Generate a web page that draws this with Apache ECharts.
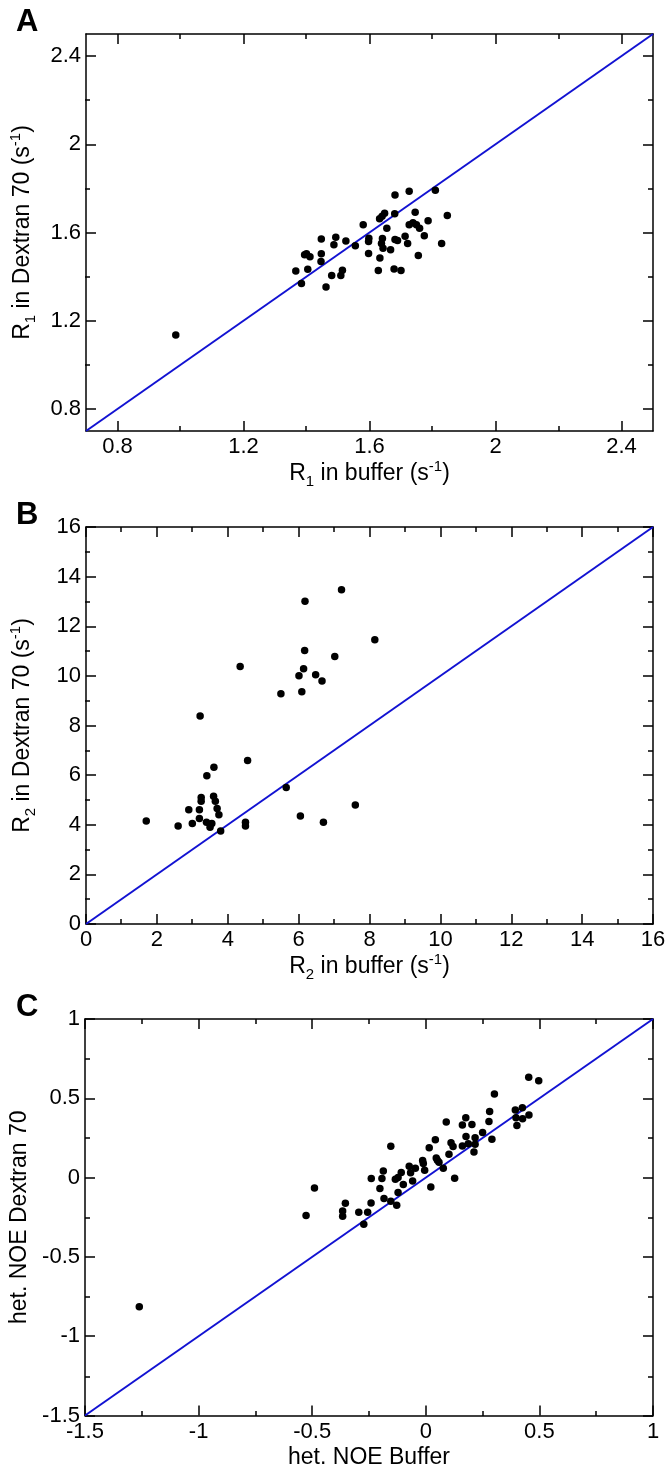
<!DOCTYPE html>
<html>
<head>
<meta charset="utf-8">
<script src="https://cdn.jsdelivr.net/npm/echarts@6/dist/echarts.min.js"></script>
<style>
html,body{margin:0;padding:0;background:#fff;}
#chart{width:672px;height:1470px;}
</style>
</head>
<body>
<div id="chart"></div>
<script>
// ---- Panel A: R1 ----
const r1Buffer  = [1.681,1.726,1.809,1.847,1.745,1.786,1.680,1.648,1.640,1.632,1.580,1.655,1.726,1.738,1.749,1.759,1.774,1.713,1.721,1.681,1.689,1.641,1.638,1.598,1.597,1.643,1.667,1.597,1.633,1.755,1.829,1.555,1.525,1.493,1.487,1.447,1.447,1.400,1.411,1.394,1.446,1.404,1.366,1.384,1.462,1.480,1.509,1.514,1.628,1.678,1.700,0.985];
const r1Dextran = [1.770,1.787,1.791,1.677,1.692,1.653,1.685,1.687,1.674,1.662,1.635,1.619,1.635,1.644,1.635,1.619,1.585,1.583,1.550,1.568,1.564,1.573,1.550,1.574,1.559,1.529,1.522,1.505,1.484,1.496,1.550,1.540,1.562,1.579,1.544,1.570,1.504,1.504,1.490,1.499,1.469,1.433,1.425,1.369,1.353,1.405,1.405,1.429,1.428,1.434,1.428,1.135];
const r1Range = [0.7, 2.5];
const r1Major = [0.8, 1.2, 1.6, 2, 2.4];
const r1Minor = [1.0, 1.4, 1.8, 2.2];

// ---- Panel B: R2 ----
const r2Buffer  = [7.21,6.18,8.15,6.17,7.02,4.35,6.14,6.01,6.48,6.66,5.50,6.09,3.22,4.56,3.61,3.41,1.70,2.60,2.90,3.00,3.20,3.20,3.25,3.25,3.40,3.50,3.55,3.60,3.65,3.70,3.75,3.80,4.50,4.50,5.65,6.05,6.70,7.60];
const r2Dextran = [13.47,13.01,11.46,11.02,10.78,10.38,10.29,10.01,10.05,9.79,9.28,9.36,8.38,6.59,6.32,5.97,4.15,3.95,4.60,4.05,4.25,4.60,4.95,5.10,4.10,3.90,4.05,5.15,4.95,4.65,4.40,3.75,4.10,3.95,5.50,4.35,4.10,4.80];
const r2Range = [0, 16];
const r2Major = [0, 2, 4, 6, 8, 10, 12, 14, 16];
const r2Minor = [1, 3, 5, 7, 9, 11, 13, 15];

// ---- Panel C: heteronuclear NOE ----
const noeBuffer  = [0.453,0.497,0.302,0.394,0.425,0.281,0.397,0.426,0.454,0.401,0.278,0.090,0.176,0.161,0.203,0.250,0.291,0.177,0.217,0.111,0.120,0.161,0.187,0.217,0.212,0.042,0.015,0.102,0.046,0.058,0.051,-0.014,-0.011,0.077,0.127,0.022,-0.073,-0.046,-0.067,-0.058,-0.005,-0.108,-0.134,-0.122,-0.099,-0.154,-0.187,-0.193,-0.202,-0.184,-0.154,-0.122,-0.128,-1.261,-0.527,-0.366,-0.366,-0.354,-0.295,-0.256,-0.273,-0.241,-0.490,-0.240];
const noeDextran = [0.632,0.611,0.527,0.426,0.440,0.417,0.377,0.371,0.394,0.329,0.354,0.350,0.377,0.331,0.335,0.285,0.242,0.259,0.251,0.219,0.196,0.200,0.213,0.211,0.162,0.238,0.188,0.148,0.124,0.097,0.110,0.108,0.089,0.059,-0.004,-0.059,0.072,0.059,0.030,-0.021,0.047,0.032,-0.010,0.001,-0.044,0.198,0.042,-0.006,-0.069,-0.132,-0.149,-0.094,-0.174,-0.814,-0.239,-0.210,-0.244,-0.162,-0.218,-0.218,-0.294,-0.160,-0.065,-0.005];
const noeRange = [-1.5, 1];
const noeMajor = [-1.5, -1, -0.5, 0, 0.5, 1];
const noeMinor = [-1.25, -0.75, -0.25, 0.25, 0.75];

const panelLetters = ['A', 'B', 'C'];
const xTitles = ['{n|R}{sub|1}{n| in buffer (s}{sup|-1}{n|)}', '{n|R}{sub|2}{n| in buffer (s}{sup|-1}{n|)}', '{n|het. NOE Buffer}'];
const yTitles = ['{n|R}{sub|1}{n| in Dextran 70 (s}{sup|-1}{n|)}', '{n|R}{sub|2}{n| in Dextran 70 (s}{sup|-1}{n|)}', '{n|het. NOE Dextran 70}'];

const FONT = "'Liberation Sans', Arial, Helvetica, sans-serif";
const panels = [
  {top: 34,   x: r1Buffer,  y: r1Dextran,  range: r1Range,  major: r1Major,  minor: r1Minor},
  {top: 527,  x: r2Buffer,  y: r2Dextran,  range: r2Range,  major: r2Major,  minor: r2Minor},
  {top: 1019, x: noeBuffer, y: noeDextran, range: noeRange, major: noeMajor, minor: noeMinor}
];

const rich = {
  n:   {fontSize: 23, lineHeight: 30, color: '#000', fontFamily: FONT},
  sub: {fontSize: 15, lineHeight: 15, verticalAlign: 'bottom', color: '#000', fontFamily: FONT},
  sup: {fontSize: 15, lineHeight: 15, verticalAlign: 'top', color: '#000', fontFamily: FONT}
};

const grid = [], xAxis = [], yAxis = [], series = [], graphic = [];
const lineStyle = {color: '#000', width: 1.5};

function axis(gi, pos, p, kind, withLabels, name, nameGap) {
  const major = kind === 'major';
  const a = {
    gridIndex: gi, type: 'value', position: pos,
    min: p.range[0], max: p.range[1],
    axisLine: {show: major, onZero: false, lineStyle},
    axisTick: {show: true, inside: true, length: major ? 10 : 5, customValues: major ? p.major : p.minor, lineStyle},
    axisLabel: {show: withLabels, customValues: p.major, color: '#000', fontSize: 22, fontFamily: FONT, margin: 5},
    splitLine: {show: false},
    minorTick: {show: false}
  };
  if (name) {
    a.name = name; a.nameLocation = 'middle'; a.nameGap = nameGap;
    a.nameTextStyle = {rich};
  }
  return a;
}

panels.forEach((p, i) => {
  const gMaj = 2 * i, gMin = 2 * i + 1;
  [gMaj, gMin].forEach(() => grid.push({left: 85, top: p.top, width: 568, height: 397, show: false}));
  xAxis.push(axis(gMaj, 'bottom', p, 'major', true, xTitles[i], 27));
  xAxis.push(axis(gMaj, 'top', p, 'major', false));
  xAxis.push(axis(gMin, 'bottom', p, 'minor', false));
  xAxis.push(axis(gMin, 'top', p, 'minor', false));
  yAxis.push(axis(gMaj, 'left', p, 'major', true, yTitles[i], 48));
  yAxis.push(axis(gMaj, 'right', p, 'major', false));
  yAxis.push(axis(gMin, 'left', p, 'minor', false));
  yAxis.push(axis(gMin, 'right', p, 'minor', false));

  series.push({
    type: 'line', xAxisIndex: 4 * i, yAxisIndex: 4 * i,
    data: [[p.range[0], p.range[0]], [p.range[1], p.range[1]]],
    showSymbol: false, symbol: 'none', silent: true,
    lineStyle: {color: '#1212d2', width: 2}, z: 2, animation: false
  });
  series.push({
    type: 'scatter', xAxisIndex: 4 * i, yAxisIndex: 4 * i,
    data: p.x.map((v, k) => [v, p.y[k]]),
    symbol: 'circle', symbolSize: 7.5,
    itemStyle: {color: '#000', opacity: 1}, z: 3, animation: false
  });

  graphic.push({
    type: 'text', left: 16, top: p.top - 27,
    style: {text: panelLetters[i], font: 'bold 31px ' + FONT, fill: '#000'}
  });
});

const chart = echarts.init(document.getElementById('chart'), null, {renderer: 'canvas'});
chart.setOption({
  backgroundColor: '#fff',
  animation: false,
  grid, xAxis, yAxis, series, graphic
});
</script>
</body>
</html>
